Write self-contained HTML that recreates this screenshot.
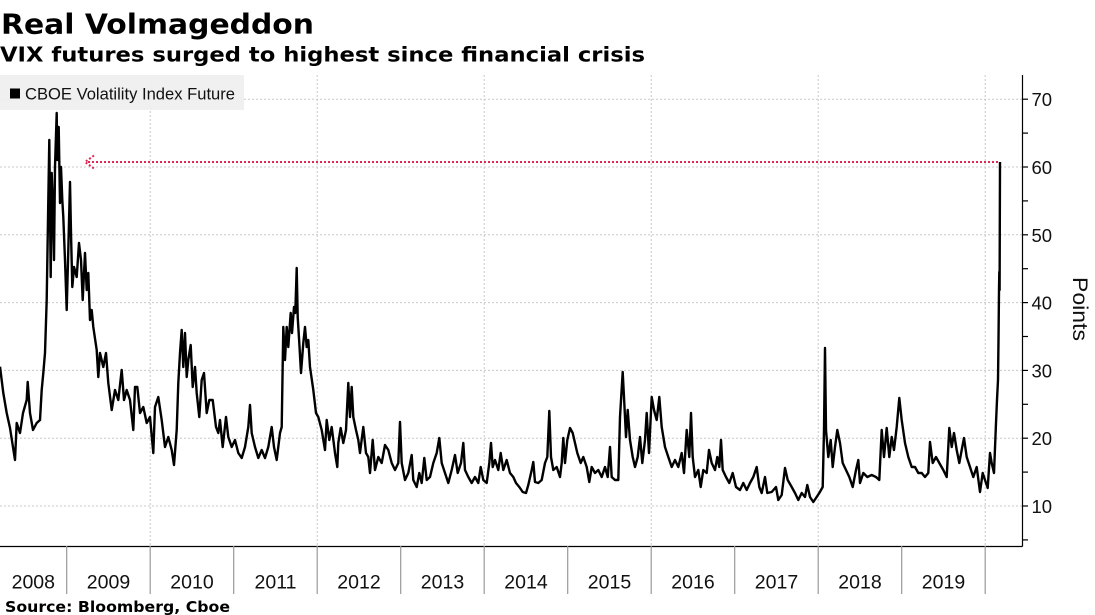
<!DOCTYPE html>
<html><head><meta charset="utf-8"><style>
html,body{margin:0;padding:0;background:#fff;}
svg{display:block;}
</style></head><body>
<svg width="1095" height="615" viewBox="0 0 1095 615" xmlns="http://www.w3.org/2000/svg">
<rect width="1095" height="615" fill="#fff"/>
<text x="1" y="33.3" font-family="DejaVu Sans, Liberation Sans, sans-serif" font-weight="bold" font-size="27.5" textLength="313" lengthAdjust="spacingAndGlyphs" fill="#000">Real Volmageddon</text>
<text x="0" y="61.7" font-family="DejaVu Sans, Liberation Sans, sans-serif" font-weight="bold" font-size="20.5" textLength="645" lengthAdjust="spacingAndGlyphs" fill="#000">VIX futures surged to highest since financial crisis</text>
<g stroke="#c8c8c8" stroke-width="1" stroke-dasharray="2 2" fill="none">
<line x1="0" y1="99.2" x2="1022" y2="99.2"/>
<line x1="0" y1="167" x2="1022" y2="167"/>
<line x1="0" y1="234.8" x2="1022" y2="234.8"/>
<line x1="0" y1="302.6" x2="1022" y2="302.6"/>
<line x1="0" y1="370.4" x2="1022" y2="370.4"/>
<line x1="0" y1="438.2" x2="1022" y2="438.2"/>
<line x1="0" y1="506" x2="1022" y2="506"/>
<line x1="150.2" y1="75" x2="150.2" y2="546"/>
<line x1="317.2" y1="75" x2="317.2" y2="546"/>
<line x1="484.2" y1="75" x2="484.2" y2="546"/>
<line x1="651.2" y1="75" x2="651.2" y2="546"/>
<line x1="818.2" y1="75" x2="818.2" y2="546"/>
<line x1="985.2" y1="75" x2="985.2" y2="546"/>
</g>
<rect x="0" y="75" width="244" height="35" fill="#efefef" fill-opacity="0.92"/>
<rect x="10" y="88.5" width="10" height="10" fill="#000"/>
<text x="25" y="99.3" font-family="Liberation Sans, sans-serif" font-size="17" textLength="210" lengthAdjust="spacingAndGlyphs" fill="#111">CBOE Volatility Index Future</text>
<g stroke="#e0274f" stroke-width="2" stroke-dasharray="2 2" fill="none">
<line x1="88" y1="162" x2="1000" y2="162"/>
<polyline points="94,155.5 85,162 94,168.5"/>
</g>
<polyline fill="none" stroke="#000" stroke-width="2.4" stroke-linejoin="round" points="0,366.7 3.3,393 6.7,413 10,428 15,460 16.7,423 20,433 23,413 26.7,400 27.7,382 30,413 33,430 36.7,423 40,420 41.7,390 43.3,373 45,353 46.7,300 48.3,200 49.3,140 50.7,277 51.7,173 52.7,200 54,260 55,167 56.7,113 57.3,160 58.7,127 60,203 61,167 62.3,200 63.3,217 65,260 66.7,310 68.3,250 70,182 71,233 72.3,287 74,267 76.7,277 79,243 81,260 82.7,300 85,253 86.7,290 88.3,273 90,320 91.7,310 93.3,327 96.7,350 98.3,377 100,353 103.3,367 106,353 108.3,383 111.7,410 115,390 118.3,400 121.7,370 124,400 126.7,390 130,400 133.3,430 135,387 137.3,387 140,413 143.3,407 146.7,423 150,417 153.3,453 155,407 158.3,397 161.7,420 165,447 168.3,437 171.7,450 174,465 176.7,430 178.3,383 180,353 181.7,330 183.3,367 185,333 186.7,377 188.3,360 190.7,345 192.7,387 195,367 196.7,393 199.3,417 201.7,380 204,373 206.7,413 209.3,400 212.7,400 216,427 218.3,433 220,420 222.7,447 226,417 228.3,437 231.7,447 235,440 238.3,453 241.7,458 245,447 248.3,427 250,405 251.7,433 255,447 258.3,458 261.7,450 265,458 268.3,447 271.7,427 274,447 276.7,460 280,433 281.7,427 283.3,327 285,360 286.7,327 288.3,347 290.7,313 292,333 294,307 295.3,313 296.7,268 297.7,317 299.3,343 301,373 303.3,343 305,327 306.7,347 308.3,340 310,367 313.3,390 316,413 318.3,417 321.7,430 325,450 326.7,420 329.3,440 331.7,427 335,453 337.3,467 338.3,443 340.7,428 343.3,443 346,430 348.3,383 350,417 351.7,387 353.3,417 356,430 358.3,440 360,453 363.3,427 366,453 368.3,457 370,473 372.7,440 375,470 378.3,457 381.7,463 385,445 388.3,450 391.7,463 395,470 398.3,463 400,422 401.7,463 405,480 408.3,473 411.7,455 413.3,480 416.7,487 419.3,473 421.7,483 424.3,458 426.7,480 430,477 433.3,463 436.7,453 439.3,438 441.7,463 445,473 448.3,483 451.7,470 455,455 457.7,473 461,463 463.3,443 465,470 468.3,477 471.7,483 475,477 478.3,483 480.7,467 483.3,480 486.7,483 489.3,463 491,443 492.7,467 495,460 498.3,470 500.7,453 503.3,470 506.7,460 510,473 513.3,477 516,483 519.3,487 522.7,492 526,493 528.3,485 531.7,470 533.3,462 535,482 538.3,483 541.7,480 545,463 547.3,457 549.3,411 551,457 553.3,470 556.7,467 560,477 561.7,463 563.3,438 565,463 567.3,440 570,428 572.7,433 575,443 577.3,453 580.7,463 583.3,457 586.7,467 589.3,482 591.7,467 595,473 598.3,470 601.7,477 605,467 607.7,477 610,447 611.7,477 615,480 618.3,480 620,417 622.7,372 624.3,403 626,437 627.7,410 630,440 632.7,457 635,467 637.7,457 640,437 642.3,463 645,440 646.7,413 649,453 651.7,397 654,410 656.7,420 659.3,397 661.7,427 665,447 668.3,457 671.7,467 675,460 678.3,467 681.7,453 684,473 686.7,430 689.3,457 691,413 692.7,457 695,477 698.3,470 700.7,487 703.3,470 706.7,473 709,450 711.7,463 715,470 717.3,457 719.3,467 721,440 722.7,470 726,477 729.3,483 732.7,473 736,487 740,490 743.3,483 746.7,490 750,483 753.3,477 756.7,467 759.3,487 761.7,493 765,477 767.3,493 771.7,492 776,487 778.3,500 781.7,495 785,468 787.7,480 791.7,487 795,493 798.3,500 801.7,493 805,497 807.3,485 810,497 813.3,502 816,498 819.3,493 822.7,487 824,430 825,348 826,430 828.3,457 830.7,440 832.7,467 835,447 837.3,430 840,443 842.7,463 846,470 849.3,477 852.7,487 856,470 858.3,460 860,483 863.3,473 867.3,477 871.7,475 876,477 879.3,480 881.7,430 884,457 886.7,428 889.3,457 891.7,437 894,450 896.7,427 899.3,398 901.7,420 905,443 908.3,457 911.7,467 915,467 918.3,473 921.7,473 925,477 928.3,473 930,442 932.7,463 936,457 939.3,463 943.3,470 946.7,477 949.3,428 951.7,447 954,433 956.7,450 959.3,463 961.7,450 964,438 966.7,457 970,467 973.3,477 976.7,467 980,492 982.7,473 986,483 987.7,488 990,453 991.7,463 994,473 996,423 997,400 998,380 998.5,340 999,290 999.3,272 999.6,290 1000,162"/>
<g stroke="#000" stroke-width="1.2" fill="none">
<line x1="1022.5" y1="75" x2="1022.5" y2="546.5"/>
<line x1="0" y1="546.5" x2="1022.5" y2="546.5"/>
<line x1="1022.5" y1="99.2" x2="1028" y2="99.2"/>
<line x1="1022.5" y1="133.1" x2="1028" y2="133.1"/>
<line x1="1022.5" y1="167" x2="1028" y2="167"/>
<line x1="1022.5" y1="200.9" x2="1028" y2="200.9"/>
<line x1="1022.5" y1="234.8" x2="1028" y2="234.8"/>
<line x1="1022.5" y1="268.7" x2="1028" y2="268.7"/>
<line x1="1022.5" y1="302.6" x2="1028" y2="302.6"/>
<line x1="1022.5" y1="336.5" x2="1028" y2="336.5"/>
<line x1="1022.5" y1="370.4" x2="1028" y2="370.4"/>
<line x1="1022.5" y1="404.3" x2="1028" y2="404.3"/>
<line x1="1022.5" y1="438.2" x2="1028" y2="438.2"/>
<line x1="1022.5" y1="472.1" x2="1028" y2="472.1"/>
<line x1="1022.5" y1="506" x2="1028" y2="506"/>
<line x1="1022.5" y1="539.9" x2="1028" y2="539.9"/>
</g>
<g font-family="Liberation Sans, sans-serif" font-size="18.5" fill="#111">
<text x="1031.5" y="106.2">70</text>
<text x="1031.5" y="174">60</text>
<text x="1031.5" y="241.8">50</text>
<text x="1031.5" y="309.6">40</text>
<text x="1031.5" y="377.4">30</text>
<text x="1031.5" y="445.2">20</text>
<text x="1031.5" y="513">10</text>
</g>
<text transform="translate(1073,309) rotate(90)" text-anchor="middle" font-family="Liberation Sans, sans-serif" font-size="21.5" textLength="64" lengthAdjust="spacingAndGlyphs" fill="#111">Points</text>
<g stroke="#999" stroke-width="1.2">
<line x1="66.7" y1="546" x2="66.7" y2="594"/>
<line x1="150.2" y1="546" x2="150.2" y2="594"/>
<line x1="233.7" y1="546" x2="233.7" y2="594"/>
<line x1="317.2" y1="546" x2="317.2" y2="594"/>
<line x1="400.7" y1="546" x2="400.7" y2="594"/>
<line x1="484.2" y1="546" x2="484.2" y2="594"/>
<line x1="567.7" y1="546" x2="567.7" y2="594"/>
<line x1="651.2" y1="546" x2="651.2" y2="594"/>
<line x1="734.7" y1="546" x2="734.7" y2="594"/>
<line x1="818.2" y1="546" x2="818.2" y2="594"/>
<line x1="901.7" y1="546" x2="901.7" y2="594"/>
<line x1="985.2" y1="546" x2="985.2" y2="594"/>
</g>
<g font-family="Liberation Sans, sans-serif" font-size="19.5" fill="#111" text-anchor="middle">
<text x="33.3" y="588.5">2008</text>
<text x="108.5" y="588.5">2009</text>
<text x="192" y="588.5">2010</text>
<text x="275.5" y="588.5">2011</text>
<text x="359" y="588.5">2012</text>
<text x="442.5" y="588.5">2013</text>
<text x="526" y="588.5">2014</text>
<text x="609.5" y="588.5">2015</text>
<text x="693" y="588.5">2016</text>
<text x="776.5" y="588.5">2017</text>
<text x="860" y="588.5">2018</text>
<text x="943.5" y="588.5">2019</text>
</g>
<text x="5" y="612" font-family="DejaVu Sans, Liberation Sans, sans-serif" font-weight="bold" font-size="15" textLength="225" lengthAdjust="spacingAndGlyphs" fill="#000">Source: Bloomberg, Cboe</text>
</svg>
</body></html>
